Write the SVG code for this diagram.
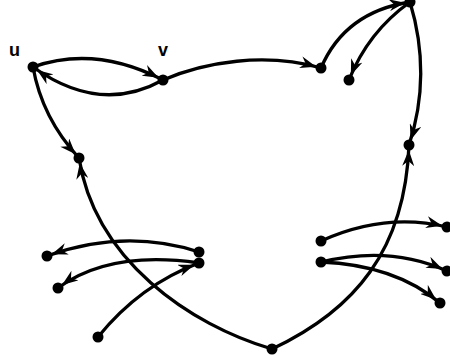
<svg xmlns="http://www.w3.org/2000/svg" width="450" height="361" viewBox="0 0 450 361">
<style>
.e{fill:none;stroke:#000;stroke-width:3.3;marker-end:url(#ah)}
.n{fill:#000}
.l{font-family:"Liberation Sans",Arial,sans-serif;font-weight:bold;font-size:18px;fill:#000}
</style>
<defs>
<marker id="ah" viewBox="0 0 16 12" refX="21" refY="6" markerWidth="16" markerHeight="12" markerUnits="userSpaceOnUse" orient="auto">
<path d="M0,0 L16,6 L0,12 L5,6 z" fill="#000"/>
</marker>
</defs>
<rect width="450" height="361" fill="#fff"/>
<g id="edges">
<path class="e" d="M33,67 Q95,45 163,80"/>
<path class="e" d="M163,80 Q100,115 33,67"/>
<path class="e" d="M163,80 C205,62 265,52 321,68"/>
<path class="e" d="M321,68 Q345,12 410,2"/>
<path class="e" d="M410,2 Q368,32 349,80"/>
<path class="e" d="M410,2 Q432,75 409,145"/>
<path class="e" d="M33,67 Q42,118 79,158"/>
<path class="e" d="M272,349 C190,325 95,260 79,158"/>
<path class="e" d="M272,349 C355,310 405,250 409,145"/>
<path class="e" d="M199,252 Q125,228 47,256"/>
<path class="e" d="M199,263 Q110,250 58,288"/>
<path class="e" d="M98,337 Q140,285 199,263"/>
<path class="e" d="M321,241 Q385,212 447,227"/>
<path class="e" d="M321,262 Q390,245 447,271"/>
<path class="e" d="M321,262 Q395,265 440,303"/>
</g>
<g id="u"><circle class="n" cx="33" cy="67" r="5.5"/><text class="l" x="9" y="56">u</text></g>
<g id="v"><circle class="n" cx="163" cy="80" r="5.5"/><text class="l" x="158" y="56">v</text></g>
<g id="a"><circle class="n" cx="321" cy="68" r="5.5"/></g>
<g id="top"><circle class="n" cx="410" cy="2" r="5.5"/></g>
<g id="b"><circle class="n" cx="349" cy="80" r="5.5"/></g>
<g id="c"><circle class="n" cx="79" cy="158" r="5.5"/></g>
<g id="d"><circle class="n" cx="409" cy="145" r="5.5"/></g>
<g id="bottom"><circle class="n" cx="272" cy="349" r="5.5"/></g>
<g id="w1"><circle class="n" cx="199" cy="252" r="5.5"/></g>
<g id="w2"><circle class="n" cx="199" cy="263" r="5.5"/></g>
<g id="l1"><circle class="n" cx="47" cy="256" r="5.5"/></g>
<g id="l2"><circle class="n" cx="58" cy="288" r="5.5"/></g>
<g id="l3"><circle class="n" cx="98" cy="337" r="5.5"/></g>
<g id="r1"><circle class="n" cx="321" cy="241" r="5.5"/></g>
<g id="r2"><circle class="n" cx="321" cy="262" r="5.5"/></g>
<g id="e1"><circle class="n" cx="447" cy="227" r="5.5"/></g>
<g id="e2"><circle class="n" cx="447" cy="271" r="5.5"/></g>
<g id="e3"><circle class="n" cx="440" cy="303" r="5.5"/></g>
</svg>
